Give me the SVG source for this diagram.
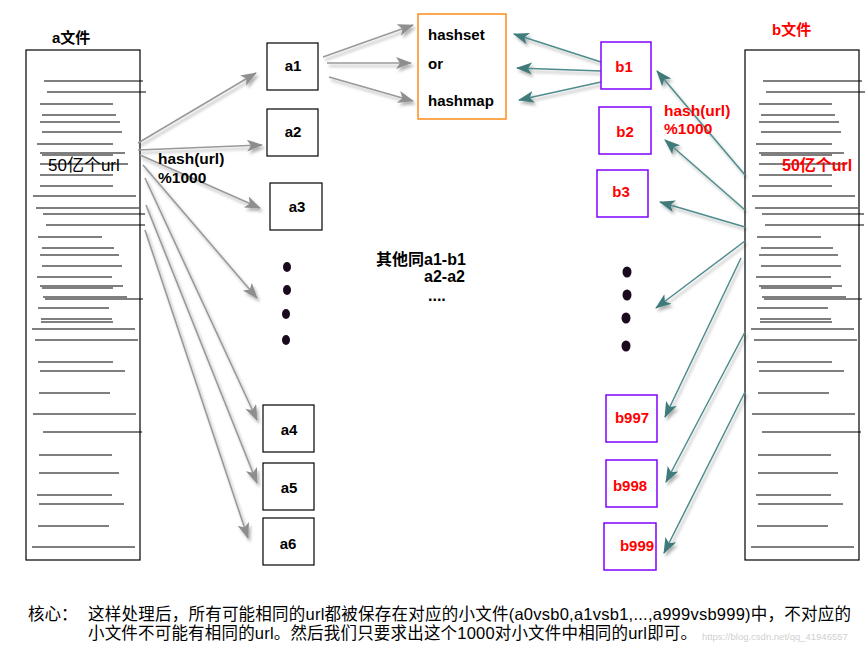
<svg xmlns="http://www.w3.org/2000/svg" xmlns:xlink="http://www.w3.org/1999/xlink" width="868" height="657" viewBox="0 0 868 657">
<style>
text{font-family:"Liberation Sans","Noto Sans CJK SC",sans-serif;}
.b{font-weight:bold;font-size:15px;fill:#000;}
.r{font-weight:bold;font-size:15px;fill:#ff0000;}
.box{fill:#fff;stroke:#000;stroke-width:1.2;}
.pbox{fill:#fff;stroke:#8000ff;stroke-width:1.5;}
.ln{stroke:#000;stroke-width:1.2;}
.ga{stroke:#999;stroke-width:1.6;fill:none;marker-end:url(#gh);}
.ta{stroke:#4f8c8c;stroke-width:1.5;fill:none;marker-end:url(#th);}
.dot{fill:#1a0a1e;}
.ft{font-size:16.5px;fill:#000;}
</style>
<defs>
<marker id="gh" markerUnits="userSpaceOnUse" markerWidth="18" markerHeight="14" refX="15" refY="6" orient="auto">
<path d="M0,0 L16,6 L0,12 L4,6 z" fill="#8e8e8e"/>
</marker>
<marker id="th" markerUnits="userSpaceOnUse" markerWidth="18" markerHeight="14" refX="15" refY="6" orient="auto">
<path d="M0,0 L16,6 L0,12 L4,6 z" fill="#3f7a7a"/>
</marker>
<filter id="sh" x="-20%" y="-20%" width="140%" height="140%">
<feDropShadow dx="2" dy="3" stdDeviation="1.8" flood-color="#000" flood-opacity="0.3"/>
</filter>
<g id="filelines" class="ln">
<line x1="44" y1="81" x2="143" y2="81"/>
<line x1="47" y1="92" x2="146" y2="92"/>
<line x1="40" y1="104" x2="113" y2="104"/>
<line x1="42" y1="115" x2="116" y2="115"/>
<line x1="40" y1="122" x2="120" y2="122"/>
<line x1="42" y1="132" x2="122" y2="132"/>
<line x1="37" y1="144" x2="113" y2="144"/>
<line x1="40" y1="153" x2="125" y2="153"/>
<line x1="42" y1="155" x2="113" y2="155"/>
<line x1="40" y1="164" x2="128" y2="164"/>
<line x1="40" y1="175" x2="113" y2="175"/>
<line x1="40" y1="186" x2="113" y2="186"/>
<line x1="33" y1="196" x2="136" y2="196"/>
<line x1="36" y1="208" x2="139" y2="208"/>
<line x1="43" y1="214" x2="145" y2="214"/>
<line x1="46" y1="225" x2="145" y2="225"/>
<line x1="38" y1="237" x2="102" y2="237"/>
<line x1="42" y1="248" x2="114" y2="248"/>
<line x1="40" y1="255" x2="119" y2="255"/>
<line x1="42" y1="266" x2="122" y2="266"/>
<line x1="37" y1="277" x2="112" y2="277"/>
<line x1="40" y1="286" x2="123" y2="286"/>
<line x1="42" y1="288" x2="113" y2="288"/>
<line x1="43" y1="297" x2="127" y2="297"/>
<line x1="45" y1="299" x2="143" y2="299"/>
<line x1="38" y1="308" x2="109" y2="308"/>
<line x1="41" y1="319" x2="112" y2="319"/>
<line x1="41" y1="322" x2="113" y2="322"/>
<line x1="32" y1="329" x2="135" y2="329"/>
<line x1="35" y1="340" x2="138" y2="340"/>
<line x1="38" y1="362" x2="113" y2="362"/>
<line x1="40" y1="371" x2="125" y2="371"/>
<line x1="39" y1="393" x2="110" y2="393"/>
<line x1="33" y1="414" x2="136" y2="414"/>
<line x1="43" y1="432" x2="142" y2="432"/>
<line x1="39" y1="455" x2="112" y2="455"/>
<line x1="39" y1="473" x2="119" y2="473"/>
<line x1="37" y1="495" x2="112" y2="495"/>
<line x1="39" y1="504" x2="124" y2="504"/>
<line x1="38" y1="526" x2="109" y2="526"/>
<line x1="32" y1="547" x2="135" y2="547"/>
</g>
</defs>
<rect width="868" height="657" fill="#fff"/>

<g id="a-file">
<rect x="26" y="50" width="114" height="510" fill="#fff" stroke="#000" stroke-width="1.2"/>
<use xlink:href="#filelines"/>
<text x="52" y="43" class="b">a文件</text>
<text x="48" y="171" style="font-size:17px;fill:#000;">50亿个url</text>
</g>

<g id="b-file">
<rect x="745" y="50" width="114" height="510" fill="#fff" stroke="#000" stroke-width="1.2"/>
<use xlink:href="#filelines" transform="translate(719,0)"/>
<text x="772" y="35" class="r">b文件</text>
<text x="782" y="171" class="r" style="font-size:16px;">50亿个url</text>
</g>

<g id="connectors" filter="url(#sh)">
<line class="ga" x1="138" y1="143" x2="256" y2="73"/>
<line class="ga" x1="138" y1="150" x2="262" y2="145"/>
<line class="ga" x1="140" y1="155" x2="260" y2="208"/>
<line class="ga" x1="143" y1="165" x2="257" y2="298"/>
<line class="ga" x1="145" y1="178" x2="257" y2="420"/>
<line class="ga" x1="146" y1="205" x2="257" y2="483"/>
<line class="ga" x1="145" y1="230" x2="248" y2="538"/>
<line class="ga" x1="323" y1="57" x2="413" y2="25"/>
<line class="ga" x1="327" y1="63" x2="411" y2="63"/>
<line class="ga" x1="329" y1="77" x2="413" y2="101"/>
<line class="ta" x1="601" y1="62" x2="514" y2="34"/>
<line class="ta" x1="601" y1="71" x2="517" y2="68"/>
<line class="ta" x1="601" y1="82" x2="519" y2="100"/>
<line class="ta" x1="745" y1="175" x2="657" y2="71"/>
<line class="ta" x1="745" y1="210" x2="665" y2="140"/>
<line class="ta" x1="745" y1="227" x2="660" y2="202"/>
<line class="ta" x1="745" y1="241" x2="656" y2="308"/>
<line class="ta" x1="741" y1="258" x2="665" y2="417"/>
<line class="ta" x1="745" y1="332" x2="666" y2="482"/>
<line class="ta" x1="745" y1="392" x2="664" y2="553"/>
</g>

<text x="158" y="164" class="b" style="font-size:15.5px;">hash(url)</text>
<text x="158" y="183" class="b" style="font-size:15.5px;">%1000</text>
<text x="664" y="116" class="r" style="font-size:15.5px;">hash(url)</text>
<text x="664" y="134" class="r" style="font-size:15.5px;">%1000</text>

<g id="a1"><rect class="box" x="267" y="43" width="51" height="47"/><text x="293" y="71" class="b" text-anchor="middle">a1</text></g>
<g id="a2"><rect class="box" x="267" y="109" width="51" height="47"/><text x="293" y="137" class="b" text-anchor="middle">a2</text></g>
<g id="a3"><rect class="box" x="270" y="183" width="52" height="47"/><text x="297" y="212" class="b" text-anchor="middle">a3</text></g>
<g id="a-dots">
<ellipse class="dot" cx="287" cy="267" rx="4" ry="5"/>
<ellipse class="dot" cx="287" cy="290" rx="4" ry="5"/>
<ellipse class="dot" cx="286" cy="314" rx="4" ry="5"/>
<ellipse class="dot" cx="286" cy="340" rx="4" ry="5"/>
</g>
<g id="a4"><rect class="box" x="263" y="405" width="51" height="47"/><text x="289" y="435" class="b" text-anchor="middle">a4</text></g>
<g id="a5"><rect class="box" x="263" y="463" width="51" height="47"/><text x="289" y="493" class="b" text-anchor="middle">a5</text></g>
<g id="a6"><rect class="box" x="263" y="518" width="51" height="47"/><text x="288" y="549" class="b" text-anchor="middle">a6</text></g>

<g id="hashset">
<rect x="418" y="14" width="88" height="105" fill="#fff" stroke="#ff8c1a" stroke-width="1.5"/>
<text x="428" y="40" class="b">hashset</text>
<text x="428" y="69" class="b">or</text>
<text x="428" y="106" class="b">hashmap</text>
</g>

<g id="b1"><rect class="pbox" x="601" y="42" width="50" height="47"/><text x="624" y="72" class="r" text-anchor="middle">b1</text></g>
<g id="b2"><rect class="pbox" x="599" y="107" width="52" height="47"/><text x="625" y="137" class="r" text-anchor="middle">b2</text></g>
<g id="b3"><rect class="pbox" x="597" y="170" width="51" height="47"/><text x="621" y="197" class="r" text-anchor="middle">b3</text></g>
<g id="b-dots">
<ellipse class="dot" cx="627" cy="272" rx="4.5" ry="5.5"/>
<ellipse class="dot" cx="627" cy="295" rx="4.5" ry="5.5"/>
<ellipse class="dot" cx="626" cy="318" rx="4.5" ry="5.5"/>
<ellipse class="dot" cx="626" cy="346" rx="4.5" ry="5.5"/>
</g>
<g id="b997"><rect class="pbox" x="606" y="395" width="51" height="47"/><text x="632" y="423" class="r" text-anchor="middle">b997</text></g>
<g id="b998"><rect class="pbox" x="606" y="460" width="51" height="47"/><text x="630" y="491" class="r" text-anchor="middle">b998</text></g>
<g id="b999"><rect class="pbox" x="604" y="523" width="52" height="47"/><text x="637" y="551" class="r" text-anchor="middle">b999</text></g>

<g id="note-center">
<text x="376" y="265" class="b" style="font-size:16px;">其他同a1-b1</text>
<text x="424" y="282" class="b" style="font-size:16px;">a2-a2</text>
<text x="428" y="301" class="b" style="font-size:16px;">....</text>
</g>

<text x="702" y="640" style="font-size:9.5px;fill:#d0d0d0;">https://blog.csdn.net/qq_41946557</text>
<g id="footer">
<text x="28" y="620" class="ft">核心：</text>
<text x="88" y="620" class="ft" textLength="763">这样处理后，所有可能相同的url都被保存在对应的小文件(a0vsb0,a1vsb1,...,a999vsb999)中，不对应的</text>
<text x="88" y="639" class="ft" textLength="609">小文件不可能有相同的url。然后我们只要求出这个1000对小文件中相同的url即可。</text>
</g>
</svg>
